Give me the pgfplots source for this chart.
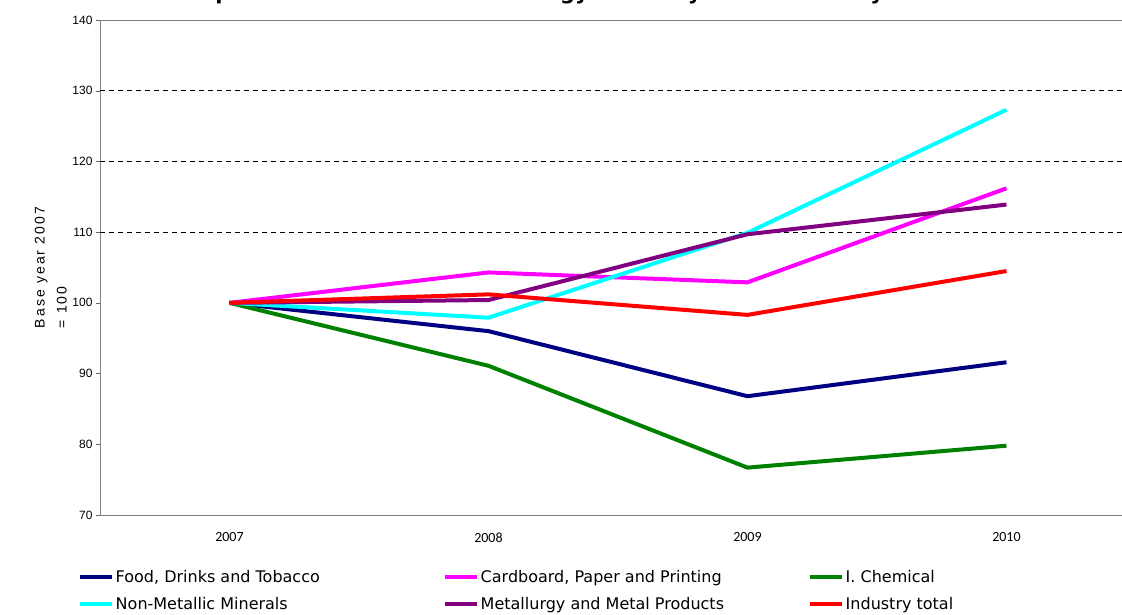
\documentclass[border=0pt]{standalone}
\usepackage{pgfplots}
\pgfplotsset{compat=1.18}
\usepackage{fontspec}
\setmainfont{DejaVu Sans}
\newfontfamily\tickfont{Liberation Sans}
\newfontfamily\xtickfont{Carlito}
\newfontfamily\ylabfont[LetterSpace=15]{Liberation Sans}

\definecolor{cfood}{RGB}{0,0,128}
\definecolor{cpaper}{RGB}{255,0,255}
\definecolor{cchem}{RGB}{0,128,0}
\definecolor{cmin}{RGB}{0,255,255}
\definecolor{cmetal}{RGB}{128,0,128}
\definecolor{ctotal}{RGB}{255,0,0}

\begin{document}
\begin{tikzpicture}
% the reference is cut at the top and on the right
\path[use as bounding box, clip] (0,0) rectangle (1122pt,614pt);
\node[anchor=base west, inner sep=0pt, font=\bfseries\fontsize{21}{24}\selectfont]
  at (134pt,614pt) {Development of the Total Final Energy Intensity in the Industry Subsectors};
\begin{axis}[
    at={(100pt,99pt)}, anchor=south west,
    scale only axis,
    width=1036pt, height=495pt,
    xmin=-0.5, xmax=3.5,
    ymin=70, ymax=140,
    xtick={0,1,2,3},
    xticklabels={2007,2008,2009,2010},
    ytick={70,80,...,140},
    extra y ticks={110,120,130},
    extra y tick labels={},
    extra y tick style={grid=major, major grid style={black, dash pattern=on 5pt off 4pt, line width=0.9pt}},
    /pgf/number format/assume math mode=true,
    axis line style={draw=black!50},
    x axis line style={draw=black!75},
    xtick style={draw=none},
    ytick style={draw=black!60},
    tick align=outside,
    major tick length=4pt,
    yticklabel style={font=\tickfont\fontsize{12}{14}\selectfont},
    xticklabel style={font=\xtickfont\fontsize{14}{16}\selectfont, yshift=-10pt},
    ylabel={Base year 2007\\= 100},
    ylabel style={font=\ylabfont\fontsize{14}{22}\selectfont, align=left,
                  at={(axis description cs:-0.0475,0.5)}, anchor=center, rotate=0},
    legend columns=3,
    legend cell align=left,
    legend image code/.code={\draw[#1, line width=4pt] (0pt,0pt) -- (32pt,0pt);},
    legend style={at={(axis description cs:-0.0212,-0.109)}, anchor=north west,
                  draw=none, fill=none, inner sep=0pt,
                  font=\fontsize{16}{18}\selectfont,
                  nodes={inner sep=1.5pt},
                  row sep=10pt},
]
\addplot[cfood, line width=4pt] coordinates {(0,100) (1,96.0) (2,86.8) (3,91.6)};
\addplot[cpaper, line width=4pt] coordinates {(0,100) (1,104.3) (2,102.9) (3,116.2)};
\addplot[cchem, line width=4pt] coordinates {(0,100) (1,91.1) (2,76.7) (3,79.8)};
\addplot[cmin, line width=4pt] coordinates {(0,100) (1,97.9) (2,109.9) (3,127.3)};
\addplot[cmetal, line width=4pt] coordinates {(0,100) (1,100.4) (2,109.7) (3,113.9)};
\addplot[ctotal, line width=4pt] coordinates {(0,100) (1,101.2) (2,98.3) (3,104.5)};
\legend{\makebox[326pt][l]{Food, Drinks and Tobacco},
        \makebox[326pt][l]{Cardboard, Paper and Printing},
        I. Chemical,
        \makebox[326pt][l]{Non-Metallic Minerals},
        \makebox[326pt][l]{Metallurgy and Metal Products},
        Industry total}
\end{axis}
\end{tikzpicture}
\end{document}
